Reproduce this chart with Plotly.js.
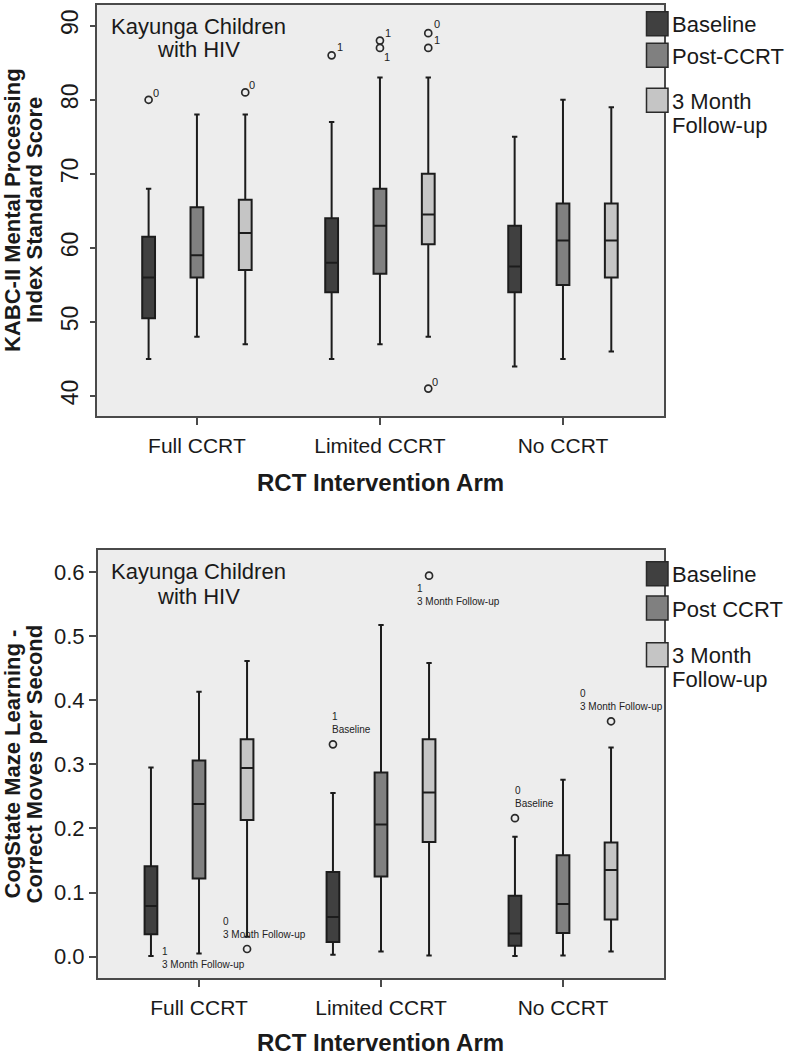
<!DOCTYPE html>
<html><head><meta charset="utf-8">
<script src="https://cdn.plot.ly/plotly-3.0.1.min.js"></script>
<style>html,body{margin:0;padding:0;background:#fff;} #chart{width:792px;height:1059px;}</style>
</head><body><div id="chart"></div>
<script>
// ---------------- DATA ----------------
const arms = ['Full CCRT', 'Limited CCRT', 'No CCRT'];
const seriesTop = ['Baseline', 'Post-CCRT', '3 Month<br>Follow-up'];
const seriesBottom = ['Baseline', 'Post CCRT', '3 Month<br>Follow-up'];
const panelNote = 'Kayunga Children<br>with HIV';
const xTitle = 'RCT Intervention Arm';
const yTitleTop = 'KABC-II Mental Processing<br>Index Standard Score';
const yTitleBottom = 'CogState Maze Learning -<br>Correct Moves per Second';
const kabcTicks = [40, 50, 60, 70, 80, 90];
const mazeTicks = [0.0, 0.1, 0.2, 0.3, 0.4, 0.5, 0.6];
const mazeTickText = ['0.0', '0.1', '0.2', '0.3', '0.4', '0.5', '0.6'];

// KABC-II MPI box statistics: rows = Baseline, Post-CCRT, 3 Month Follow-up; columns = arms
const kabcLower  = [[45, 45, 44], [48, 47, 45], [47, 48, 46]];
const kabcQ1     = [[50.5, 54, 54], [56, 56.5, 55], [57, 60.5, 56]];
const kabcMedian = [[56, 58, 57.5], [59, 63, 61], [62, 64.5, 61]];
const kabcQ3     = [[61.5, 64, 63], [65.5, 68, 66], [66.5, 70, 66]];
const kabcUpper  = [[68, 77, 75], [78, 83, 80], [78, 83, 79]];
// outliers: [arm index, series index, value, case label]
const kabcOutliers = [
  [0, 0, 80, '0'], [0, 2, 81, '0'], [1, 0, 86, '1'], [1, 1, 88, '1'], [1, 1, 87, '1'],
  [1, 2, 89, '0'], [1, 2, 87, '1'], [1, 2, 41, '0']
];

// CogState maze learning box statistics
const mazeLower  = [[0.001, 0.003, 0.001], [0.005, 0.008, 0.002], [0.031, 0.002, 0.008]];
const mazeQ1     = [[0.035, 0.023, 0.017], [0.122, 0.125, 0.037], [0.213, 0.179, 0.058]];
const mazeMedian = [[0.079, 0.062, 0.036], [0.238, 0.206, 0.082], [0.294, 0.256, 0.135]];
const mazeQ3     = [[0.141, 0.132, 0.095], [0.306, 0.287, 0.158], [0.339, 0.339, 0.178]];
const mazeUpper  = [[0.295, 0.255, 0.187], [0.413, 0.517, 0.276], [0.461, 0.458, 0.326]];
const mazeOutliers = [
  [0, 2, 0.012, '0<br>3 Month Follow-up'], [1, 0, 0.331, '1<br>Baseline'],
  [1, 2, 0.594, '1<br>3 Month Follow-up'], [2, 0, 0.216, '0<br>Baseline'],
  [2, 2, 0.367, '0<br>3 Month Follow-up']
];
// case label printed without a visible marker
const mazeCaseLabels = [[0, 0, 0.0, '1<br>3 Month Follow-up']];

// ---------------- STYLE ----------------
const FONT = 'Liberation Sans, Arial, Helvetica, sans-serif';
const TXT = '#1a1a1a';
const W = 792, H = 1059;
const px = v => v / W;
const py = v => 1 - v / H;
const fills = ['#404040', '#808080', '#c5c5c5'];
const offsets = [-0.264, 0, 0.264];
const BOXW = 0.07;
// label placement for outliers: [xanchor, yanchor, xshift, yshift]
const kabcLabelPos = [
  ['center','middle',7,7], ['center','middle',7,7], ['center','middle',8,8], ['center','middle',8,8],
  ['center','middle',7,-9], ['center','middle',9,9], ['center','middle',9,8], ['center','middle',7,7]
];
const mazeLabelPos = [
  ['left','bottom',-26,7], ['left','bottom',-3,7], ['left','top',-14,-5],
  ['left','bottom',-2,7], ['left','bottom',-33,7]
];
const mazeCasePos = [['left','middle',9,-1]];

const panels = [
  {xa: 'x', ya: 'y', stats: [kabcLower, kabcQ1, kabcMedian, kabcQ3, kabcUpper], out: kabcOutliers,
   outPos: kabcLabelPos, extra: [], extraPos: [], labelSize: 11, series: seriesTop,
   legendTop: [11.7, 43.3, 88.3], noteY: [26, 50], titleY: 483, yTitleX: [12.5, 34.5], yCenter: 210.5,
   yTitle: yTitleTop},
  {xa: 'x2', ya: 'y2', stats: [mazeLower, mazeQ1, mazeMedian, mazeQ3, mazeUpper], out: mazeOutliers,
   outPos: mazeLabelPos, extra: mazeCaseLabels, extraPos: mazeCasePos, labelSize: 10, series: seriesBottom,
   legendTop: [561.7, 596, 642.7], noteY: [571.7, 596.7], titleY: 1042, yTitleX: [11.5, 33.5], yCenter: 764,
   yTitle: yTitleBottom}
];

const traces = [];
const annotations = [];
const shapes = [];

panels.forEach(p => {
  const [lo, q1, med, q3, up] = p.stats;
  for (let s = 0; s < 3; s++) {
    traces.push({
      type: 'box', xaxis: p.xa, yaxis: p.ya, name: p.series[s].replace('<br>', ' '),
      x: arms.map((_, i) => i + offsets[s]),
      lowerfence: lo[s], q1: q1[s], median: med[s], q3: q3[s], upperfence: up[s],
      width: BOXW, whiskerwidth: 0.42, fillcolor: fills[s],
      line: {color: '#1c1c1c', width: 2}, boxpoints: false,
      showlegend: false, hoverinfo: 'skip'
    });
  }
  traces.push({
    type: 'scatter', mode: 'markers', xaxis: p.xa, yaxis: p.ya, showlegend: false, hoverinfo: 'skip',
    x: p.out.map(o => o[0] + offsets[o[1]]), y: p.out.map(o => o[2]),
    marker: {symbol: 'circle-open', size: 7, color: '#2a2a2a', line: {width: 1.7, color: '#2a2a2a'}}
  });
  const addLabel = (o, pos) => annotations.push({
    xref: p.xa, yref: p.ya, x: o[0] + offsets[o[1]], y: o[2], text: o[3], showarrow: false,
    xanchor: pos[0], yanchor: pos[1], xshift: pos[2], yshift: pos[3], align: 'left',
    font: {family: FONT, size: p.labelSize, color: '#222222'}
  });
  p.out.forEach((o, i) => addLabel(o, p.outPos[i]));
  p.extra.forEach((o, i) => addLabel(o, p.extraPos[i]));

  // legend (drawn swatches + labels)
  p.series.forEach((name, s) => {
    const top = p.legendTop[s];
    shapes.push({type: 'rect', xref: 'paper', yref: 'paper',
      x0: px(646.5), x1: px(668), y0: py(top), y1: py(top + 24),
      fillcolor: fills[s], line: {color: '#2a2a2a', width: 1.5}});
    name.split('<br>').forEach((line, k) => annotations.push({
      xref: 'paper', yref: 'paper', x: px(670), y: py(top + 13 + k * 24), text: line,
      showarrow: false, xanchor: 'left', yanchor: 'middle',
      font: {family: FONT, size: 22, color: TXT}
    }));
  });
  // panel note
  panelNote.split('<br>').forEach((line, k) => annotations.push({
    xref: 'paper', yref: 'paper', x: px(198), y: py(p.noteY[k]), text: line, showarrow: false,
    xanchor: 'center', yanchor: 'middle', font: {family: FONT, size: 22, color: TXT}
  }));
  // x-axis title
  annotations.push({xref: 'paper', yref: 'paper', x: px(380), y: py(p.titleY), text: '<b>' + xTitle + '</b>',
    showarrow: false, xanchor: 'center', yanchor: 'middle', font: {family: FONT, size: 24, color: TXT}});
  // y-axis title (two lines)
  p.yTitle.split('<br>').forEach((line, k) => annotations.push({
    xref: 'paper', yref: 'paper', x: px(p.yTitleX[k]), y: py(p.yCenter), text: '<b>' + line + '</b>',
    showarrow: false, textangle: -90, xanchor: 'center', yanchor: 'middle',
    font: {family: FONT, size: 22, color: TXT}
  }));
});

const axisCommon = {
  showline: true, linecolor: '#4a4a4a', linewidth: 2, mirror: true, showgrid: false, zeroline: false,
  ticks: 'outside', tickcolor: '#4a4a4a', tickwidth: 2, fixedrange: true
};

const layout = {
  width: W, height: H, margin: {l: 0, r: 0, t: 0, b: 0}, paper_bgcolor: '#ffffff', plot_bgcolor: '#ededed',
  boxmode: 'overlay', showlegend: false, font: {family: FONT, color: TXT},
  xaxis: Object.assign({}, axisCommon, {domain: [px(97), px(664)], range: [-0.546, 2.552], anchor: 'y',
    tickmode: 'array', tickvals: [0, 1, 2], ticktext: arms, ticklen: 7, ticklabelstandoff: 3,
    tickfont: {family: FONT, size: 21, color: TXT}}),
  yaxis: Object.assign({}, axisCommon, {domain: [py(416), py(5)], range: [37.3, 92.8], anchor: 'x',
    tickmode: 'array', tickvals: kabcTicks, tickangle: -90, ticklen: 5, ticklabelstandoff: 3,
    tickfont: {family: FONT, size: 23, color: TXT}}),
  xaxis2: Object.assign({}, axisCommon, {domain: [px(98), px(664)], range: [-0.555, 2.555], anchor: 'y2',
    tickmode: 'array', tickvals: [0, 1, 2], ticktext: arms, ticklen: 7, ticklabelstandoff: 3,
    tickfont: {family: FONT, size: 21, color: TXT}}),
  yaxis2: Object.assign({}, axisCommon, {domain: [py(978), py(550)], range: [-0.0332, 0.634], anchor: 'x2',
    tickmode: 'array', tickvals: mazeTicks, ticktext: mazeTickText, ticklen: 7, ticklabelstandoff: 0,
    tickfont: {family: FONT, size: 22, color: TXT}}),
  annotations: annotations,
  shapes: shapes
};

Plotly.newPlot('chart', traces, layout, {staticPlot: true, displayModeBar: false});
</script>
</body></html>
